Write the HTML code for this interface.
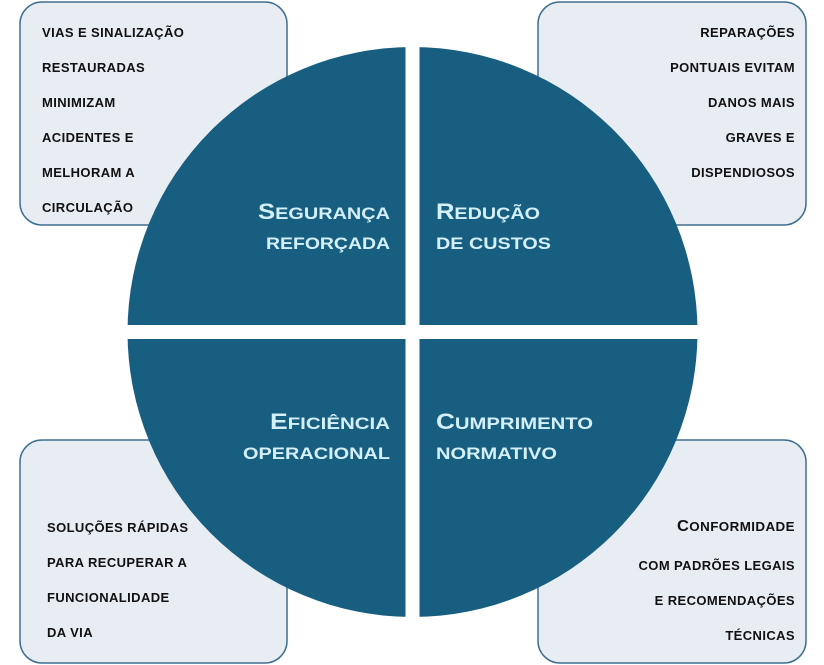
<!DOCTYPE html>
<html><head><meta charset="utf-8"><style>
html,body{margin:0;padding:0;background:#fff;}
svg{display:block;}
.b{font-family:"Liberation Sans",sans-serif;font-weight:bold;font-size:13px;fill:#111;letter-spacing:0.4px;}
.t{font-family:"Liberation Sans",sans-serif;font-weight:bold;font-size:17px;fill:#d3eff8;}
.L{font-size:22px;}
</style></head><body>
<svg width="824" height="665" viewBox="0 0 824 665">
<g fill="#e8ecf3" stroke="#3f6f8f" stroke-width="1.5">
<rect x="20" y="2" width="267" height="223" rx="22"/>
<rect x="538" y="2" width="268" height="223" rx="22"/>
<rect x="20" y="440" width="267" height="223" rx="22"/>
<rect x="538" y="440" width="268" height="223" rx="22"/>
</g>
<circle cx="412.5" cy="332" r="285" fill="#175e80"/>
<rect x="405.5" y="40" width="14" height="590" fill="#fff"/>
<rect x="120" y="325" width="590" height="14" fill="#fff"/>
<g class="b">
<text x="42" y="37">VIAS E SINALIZAÇÃO</text>
<text x="42" y="72">RESTAURADAS</text>
<text x="42" y="107">MINIMIZAM</text>
<text x="42" y="142">ACIDENTES E</text>
<text x="42" y="177">MELHORAM A</text>
<text x="42" y="212">CIRCULAÇÃO</text>
</g>
<g class="b" text-anchor="end">
<text x="795" y="37">REPARAÇÕES</text>
<text x="795" y="72">PONTUAIS EVITAM</text>
<text x="795" y="107">DANOS MAIS</text>
<text x="795" y="142">GRAVES E</text>
<text x="795" y="177">DISPENDIOSOS</text>
<text x="795" y="570">COM PADRÕES LEGAIS</text>
<text x="795" y="605">E RECOMENDAÇÕES</text>
<text x="795" y="640">TÉCNICAS</text>
</g>
<text class="b" x="677" y="531" textLength="118" lengthAdjust="spacingAndGlyphs"><tspan style="font-size:16px">C</tspan>ONFORMIDADE</text>
<g class="b">
<text x="47" y="532">SOLUÇÕES RÁPIDAS</text>
<text x="47" y="567">PARA RECUPERAR A</text>
<text x="47" y="602">FUNCIONALIDADE</text>
<text x="47" y="637">DA VIA</text>
</g>
<g class="t">
<text x="258" y="219" textLength="132" lengthAdjust="spacingAndGlyphs"><tspan class="L">S</tspan>EGURANÇA</text>
<text x="266" y="249" textLength="124" lengthAdjust="spacingAndGlyphs">REFORÇADA</text>
<text x="270" y="429" textLength="120" lengthAdjust="spacingAndGlyphs"><tspan class="L">E</tspan>FICIÊNCIA</text>
<text x="243" y="459" textLength="147" lengthAdjust="spacingAndGlyphs">OPERACIONAL</text>
<text x="436" y="219" textLength="104" lengthAdjust="spacingAndGlyphs"><tspan class="L">R</tspan>EDUÇÃO</text>
<text x="436" y="249" textLength="115" lengthAdjust="spacingAndGlyphs">DE CUSTOS</text>
<text x="436" y="429" textLength="157" lengthAdjust="spacingAndGlyphs"><tspan class="L">C</tspan>UMPRIMENTO</text>
<text x="436" y="459" textLength="121" lengthAdjust="spacingAndGlyphs">NORMATIVO</text>
</g>
</svg>
</body></html>
